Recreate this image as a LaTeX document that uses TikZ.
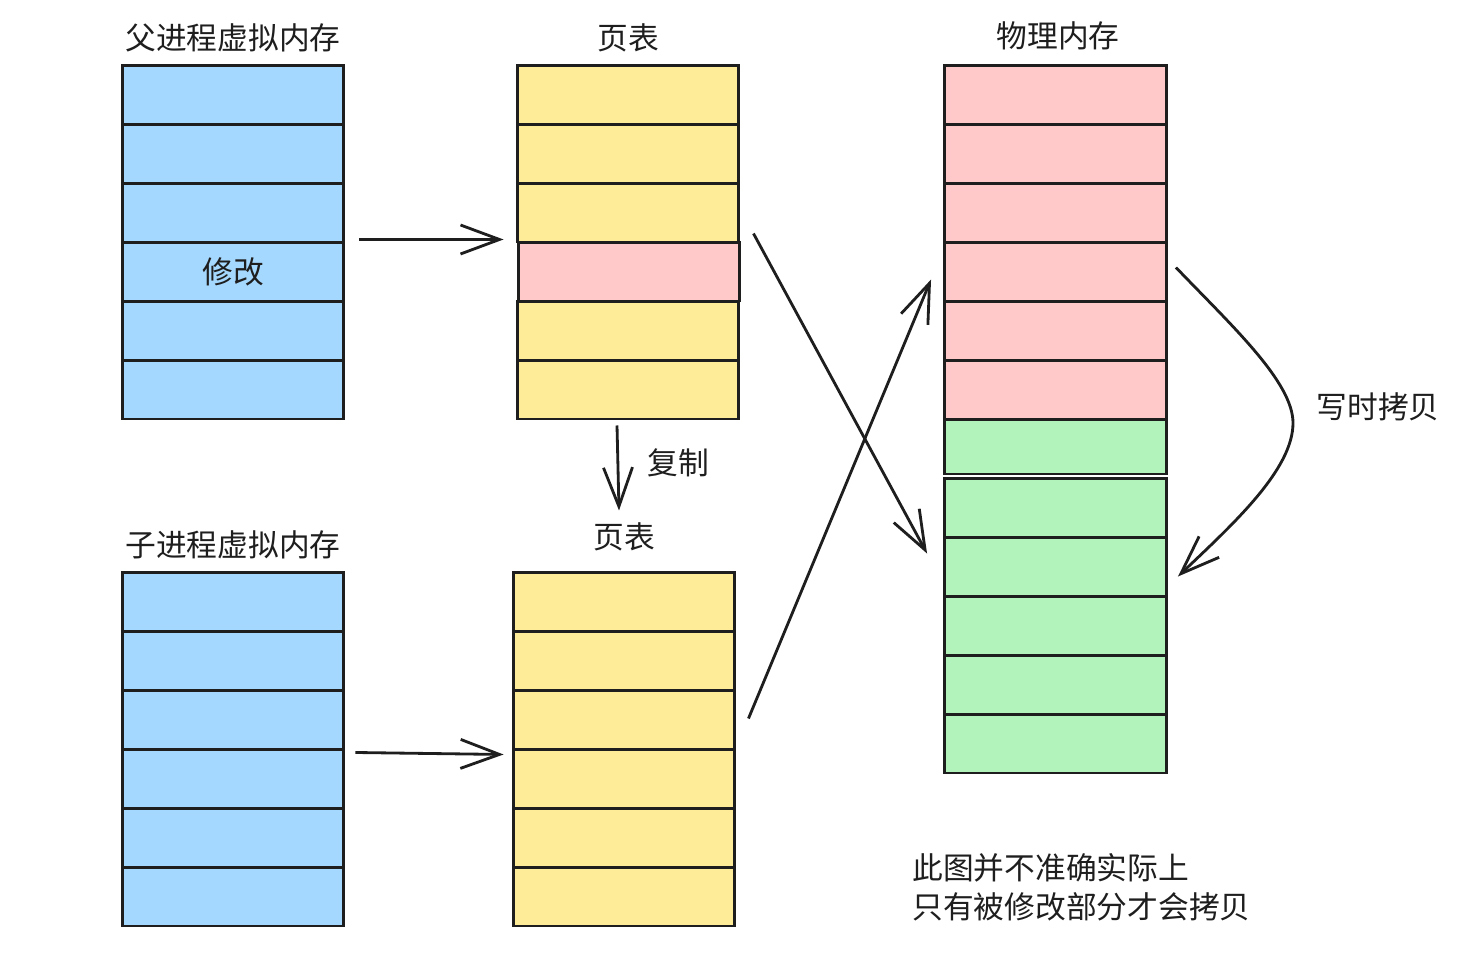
\documentclass[tikz,border=0pt]{standalone}
\usepackage{fontspec}
\setmainfont{Noto Sans CJK SC}
\usetikzlibrary{arrows.meta}

\definecolor{inkc}{HTML}{1E1E1E}
\definecolor{bluec}{HTML}{A5D8FF}
\definecolor{yellowc}{HTML}{FFEC99}
\definecolor{pinkc}{HTML}{FFC9C9}
\definecolor{greenc}{HTML}{B2F2BB}

\begin{document}
\begin{tikzpicture}[x=0.02cm,y=-0.02cm,
cell/.style={draw=inkc,rectangle,line width=1.7pt,inner sep=0pt,minimum width=4.44cm,minimum height=1.18cm},
vcell/.style={cell,fill=bluec},
tcell/.style={cell,fill=yellowc},
rcell/.style={cell,fill=pinkc},
gcell/.style={cell,fill=greenc},
txt/.style={text=inkc,font=\fontsize{17.5}{22}\selectfont,inner sep=0pt},
arr/.style={draw=inkc,line width=1.6pt,-{Straight Barb[length=7.8mm,width=5.8mm,line width=1.6pt]}}]

\useasboundingbox (0,0) rectangle (1474,977);

% parent / child virtual memory and page tables
\foreach \i [evaluate=\i as \yc using 35.5+59*\i] in {1,...,6} {
  \node[vcell] (pv\i) at (233,\yc) {};
  \node[vcell] (cv\i) at (233,\yc+507) {};
  \node[tcell] (ct\i) at (624,\yc+507) {};
}
\foreach \i [evaluate=\i as \yc using 35.5+59*\i] in {1,2,3,5,6}
  \node[tcell] (pt\i) at (628,\yc) {};
\node[rcell] (pt4) at (629,271.5) {};

% physical memory
\foreach \i [evaluate=\i as \yc using 35.5+59*\i] in {1,...,6}
  \node[rcell] (pm\i) at (1055.5,\yc) {};
\node[gcell,minimum height=1.1cm] (pm7) at (1055.5,446.5) {};
\foreach \i [evaluate=\i as \yc using 507.5+59*(\i-8)] in {8,...,12}
  \node[gcell] (pm\i) at (1055.5,\yc) {};

% labels
\node[txt] (lblpv) at (233,38) {父进程虚拟内存};
\node[txt] (lblpt) at (628,38) {页表};
\node[txt] (lblpm) at (1058,36) {物理内存};
\node[txt] (lblcv) at (233,545) {子进程虚拟内存};
\node[txt] (lblct) at (624,537) {页表};
\node[txt] (lblmod) at (pv4.center) {修改};
\node[txt] (lblcopy) at (678,463) {复制};
\node[txt] (lblcow) at (1378,407) {写时拷贝};
\node[txt,anchor=west,align=left] (note) at (912,887) {此图并不准确实际上\\只有被修改部分才会拷贝};

% arrows
\draw[arr] ([shift={(14,-4)}]pv3.south east) -- ([shift={(-12,-4)}]pt3.south west);
\draw[arr] ([shift={(10,2)}]cv3.south east) -- ([shift={(-8,4)}]ct3.south west);
\draw[arr] ([shift={(-11,5)}]pt6.south) -- ([shift={(-5,-12)}]lblct.north);
\draw[arr] ([shift={(12,-7)}]pt4.north east) -- ([shift={(-16,-13)}]pm9.west);
\draw[arr] ([shift={(12,-1)}]ct3.east) -- ([shift={(-12,8)}]pm4.west);
\draw[arr] ([shift={(8,-4)}]pm4.east) .. controls (1232,326) and (1293,382) .. (1293,423)
  .. controls (1293,470) and (1232,525) .. ([shift={(10,10)}]pm9.east);
\end{tikzpicture}
\end{document}
